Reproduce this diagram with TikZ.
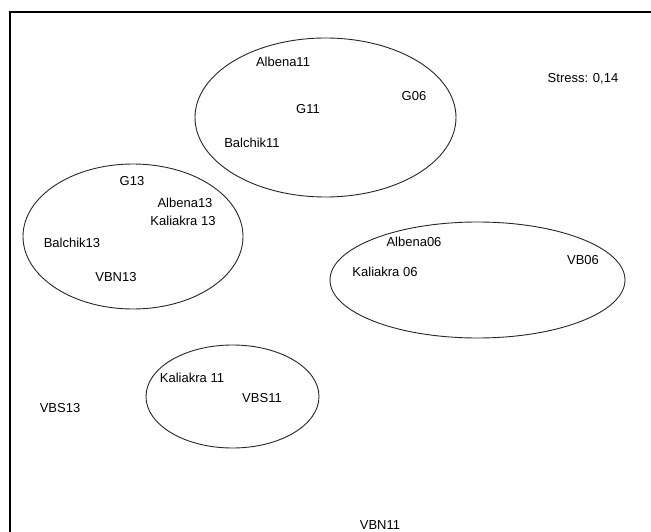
\documentclass[tikz,border=0pt]{standalone}
\usepackage{fontspec}
\setmainfont{Liberation Sans}
\begin{document}
\begin{tikzpicture}[x=1pt,y=-1pt,
  lbl/.style={font=\fontsize{13}{15}\selectfont, inner sep=0pt, text=black},
  grp/.style={draw=black!85, line width=0.9pt},
  frame/.style={draw=black, line width=1.5pt}]
\useasboundingbox (0,0) rectangle (651,532);
\coordinate (fb) at (10,532);
\coordinate (fc) at (10,12);
\coordinate (fr) at (651,12);
\draw[frame] (fb) -- (fc) -- (fr);
% groups
\draw[grp] (325.5,117.5) ellipse [x radius=130.5, y radius=79.5];
\draw[grp] (133,236.5) ellipse [x radius=110, y radius=72.5];
\draw[grp] (477.5,280) ellipse [x radius=147.5, y radius=58];
\draw[grp] (232.5,396.5) ellipse [x radius=86.5, y radius=51.5];
% labels
\node[lbl] (stress) at (583,79) {Stress: 0,14};
\node[lbl] (albena11) at (283,62) {Albena11};
\node[lbl] (g06) at (414,96) {G06};
\node[lbl] (g11) at (308,109) {G11};
\node[lbl] (balchik11) at (252,143) {Balchik11};
\node[lbl] (g13) at (132,181) {G13};
\node[lbl] (albena13) at (185,203) {Albena13};
\node[lbl] (kaliakra13) at (183,221) {Kaliakra 13};
\node[lbl] (balchik13) at (72,243) {Balchik13};
\node[lbl] (vbn13) at (116,277) {VBN13};
\node[lbl] (albena06) at (414,242) {Albena06};
\node[lbl] (kaliakra06) at (385,272) {Kaliakra 06};
\node[lbl] (vb06) at (583,260) {VB06};
\node[lbl] (kaliakra11) at (192,378) {Kaliakra 11};
\node[lbl] (vbs11) at (262,398) {VBS11};
\node[lbl] (vbs13) at (60,408) {VBS13};
\node[lbl] (vbn11) at (380,525) {VBN11};
\end{tikzpicture}
\end{document}
